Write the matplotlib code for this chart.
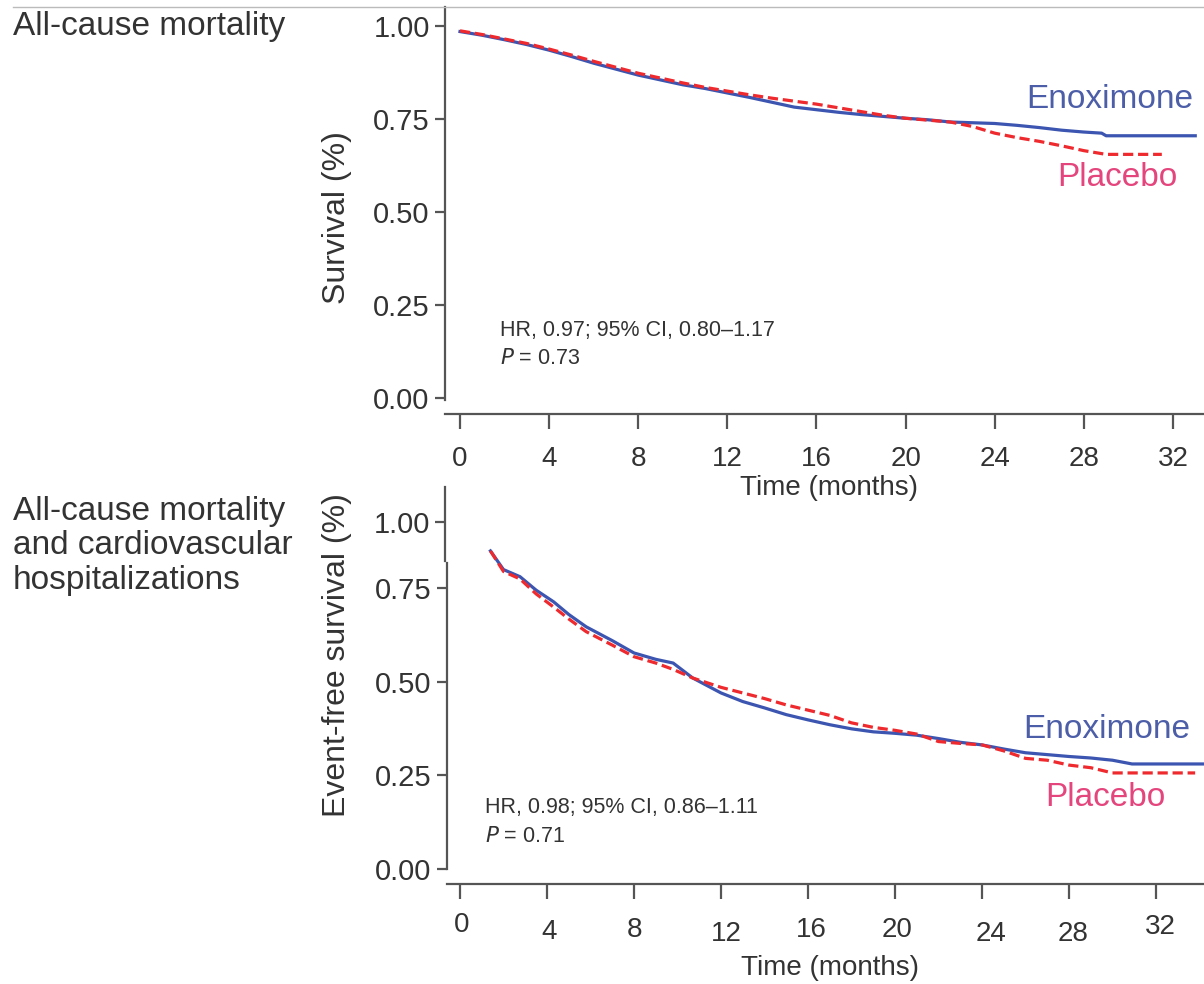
import matplotlib.pyplot as plt
from matplotlib.lines import Line2D
from matplotlib.transforms import ScaledTranslation

plt.rcParams['font.family'] = ['Liberation Sans', 'DejaVu Sans']

W, H = 1204, 984
BLUE = '#3c55b0'
RED = '#ee2a2e'
BLUE_TXT = '#4d5ea8'
PINK_TXT = '#e4457c'
GREY = '#555555'
TXT = '#333333'

month_ticks = [0, 4, 8, 12, 16, 20, 24, 28, 32]
surv_ticks = [0.0, 0.25, 0.5, 0.75]

# all-cause mortality
mort_enox_t = [0, 1, 2, 3, 4, 5, 6, 7, 8, 9, 10, 11, 12, 13, 14, 15, 16, 17, 18, 19,
               20, 21, 22, 23, 24, 25, 26, 27, 28, 28.8, 29, 33]
mort_enox_s = [0.985, 0.975, 0.963, 0.950, 0.935, 0.918, 0.900, 0.884, 0.868, 0.855,
               0.842, 0.832, 0.820, 0.808, 0.795, 0.782, 0.775, 0.768, 0.762, 0.757,
               0.752, 0.748, 0.742, 0.740, 0.738, 0.733, 0.727, 0.720, 0.715, 0.712,
               0.705, 0.705]
mort_plac_t = [0, 1, 2, 3, 4, 5, 6, 7, 8, 9, 10, 11, 12, 13, 14, 15, 16, 17, 18, 19,
               20, 21, 22, 23, 24, 25, 26, 27, 28, 29, 31.5]
mort_plac_s = [0.987, 0.977, 0.965, 0.953, 0.938, 0.922, 0.905, 0.889, 0.873, 0.860,
               0.847, 0.835, 0.825, 0.815, 0.806, 0.798, 0.790, 0.780, 0.770, 0.760,
               0.752, 0.747, 0.742, 0.730, 0.712, 0.700, 0.690, 0.678, 0.665, 0.655, 0.655]

# all-cause mortality + CV hospitalization
hosp_enox_t = [1.4, 2, 2.76, 3.5, 4.3, 5, 5.8, 7, 8, 9, 9.8, 10.7, 12, 13, 14, 15, 16,
               17, 18, 19, 20, 21, 22, 23, 24, 25, 26, 27, 28, 29, 30, 30.9, 34.2]
hosp_enox_s = [0.850, 0.800, 0.781, 0.745, 0.714, 0.680, 0.647, 0.610, 0.577, 0.560,
               0.550, 0.510, 0.470, 0.447, 0.430, 0.412, 0.398, 0.385, 0.374, 0.366,
               0.362, 0.357, 0.348, 0.338, 0.331, 0.320, 0.310, 0.305, 0.300, 0.296,
               0.290, 0.280, 0.280]
hosp_plac_t = [1.4, 2, 2.76, 3.5, 4.3, 5, 5.8, 7, 8, 9, 9.8, 10.7, 12, 13, 14, 15, 16,
               17, 18, 19, 20, 21, 22, 23, 24, 25, 26, 27, 28, 29, 30, 33.8]
hosp_plac_s = [0.850, 0.795, 0.775, 0.735, 0.700, 0.668, 0.634, 0.598, 0.567, 0.550,
               0.533, 0.510, 0.485, 0.470, 0.455, 0.438, 0.424, 0.410, 0.390, 0.378,
               0.370, 0.360, 0.340, 0.335, 0.331, 0.315, 0.295, 0.290, 0.277, 0.270,
               0.256, 0.256]

# small pixel nudges (dx, dy) of the lower month labels
hosp_label_nudge = [(2, 0), (2, 7), (0, 5), (5, 9), (3, 5), (2, 5), (9, 9), (4, 9), (4, 2)]


def px_axes(fig, left, top, right, bottom):
    return fig.add_axes([left / W, 1 - bottom / H, (right - left) / W, (bottom - top) / H])


def style(ax, xlim, ylim, spine_top, xoff):
    ax.set_xlim(*xlim)
    ax.set_ylim(*ylim)
    for s in ['top', 'right']:
        ax.spines[s].set_visible(False)
    for s in ['left', 'bottom']:
        ax.spines[s].set_color(GREY)
        ax.spines[s].set_linewidth(1.6)
    ax.spines['left'].set_bounds(ylim[0], spine_top)
    ax.spines['bottom'].set_position(('outward', xoff))
    ax.set_xticks(month_ticks)
    ax.set_xticklabels([str(m) for m in month_ticks])
    ax.tick_params(axis='x', length=11, width=1.6, color=GREY, labelsize=20,
                   labelcolor=TXT, pad=12)
    ax.tick_params(axis='y', length=7, width=1.6, color=GREY, labelsize=21,
                   labelcolor=TXT, pad=4)
    ax.patch.set_alpha(0)


def curves(ax, te, se, tp, sp):
    ax.plot(te, se, color=BLUE, lw=2.3, clip_on=False)
    ax.plot(tp, sp, color=RED, lw=2.3, dashes=(3.2, 1.5), clip_on=False)


fig = plt.figure(figsize=(W / 100, H / 100), dpi=100)

# thin rule across the top
fig.add_artist(Line2D([13 / W, 1], [1 - 7 / H, 1 - 7 / H], color='#bbbbbb', lw=1.0))

# ---- top panel ----
ax1 = px_axes(fig, 445, 7, 1204, 400)
style(ax1, (-15 / 22.28, 744 / 22.28), (-0.005, 1.051), 1.051, 10)
ax1.set_yticks(surv_ticks + [1.0])
ax1.set_yticklabels(['0.00', '0.25', '0.50', '0.75', '1.00'])
curves(ax1, mort_enox_t, mort_enox_s, mort_plac_t, mort_plac_s)

fig.text(13 / W, 1 - 26 / H, 'All-cause mortality', fontsize=24, color=TXT, va='center')
fig.text(337 / W, 1 - 218 / H, 'Survival (%)', fontsize=23, color=TXT, rotation=90,
         ha='center', va='center')
fig.text(829 / W, 1 - 488 / H, 'Time (months)', fontsize=20, color=TXT,
         ha='center', va='center')
fig.text(1193 / W, 1 - 100 / H, 'Enoximone', fontsize=24, color=BLUE_TXT,
         ha='right', va='center')
fig.text(1178 / W, 1 - 178 / H, 'Placebo', fontsize=24, color=PINK_TXT,
         ha='right', va='center')
fig.text(500 / W, 1 - 330 / H, 'HR, 0.97; 95% CI, 0.80\u20131.17', fontsize=15.5,
         color=TXT, va='center')
fig.text(500 / W, 1 - 358 / H, '$P$ = 0.73', fontsize=15.5, color=TXT, va='center')

# ---- bottom panel ----
ax2 = px_axes(fig, 447, 487, 1204, 869)
style(ax2, (-13 / 21.75, 744 / 21.75), (-0.001, 1.021), 0.818, 11)
ax2.set_yticks(surv_ticks)
ax2.set_yticklabels(['0.00', '0.25', '0.50', '0.75'])
ax2.tick_params(axis='x', pad=9)
for lbl, (dx, dy) in zip(ax2.get_xticklabels(), hosp_label_nudge):
    lbl.set_transform(lbl.get_transform() +
                      ScaledTranslation(dx / 100, -dy / 100, fig.dpi_scale_trans))
curves(ax2, hosp_enox_t, hosp_enox_s, hosp_plac_t, hosp_plac_s)

# upper spine segment carrying the 1.00 tick
ax2b = px_axes(fig, 445, 487, 460, 561)
ax2b.set_ylim(0.8956, 1.0937)
ax2b.set_xticks([])
ax2b.set_yticks([1.0])
ax2b.set_yticklabels(['1.00'])
for s in ['top', 'right', 'bottom']:
    ax2b.spines[s].set_visible(False)
ax2b.spines['left'].set_color(GREY)
ax2b.spines['left'].set_linewidth(1.6)
ax2b.tick_params(axis='y', length=7, width=1.6, color=GREY, labelsize=21,
                 labelcolor=TXT, pad=4)
ax2b.patch.set_alpha(0)

fig.text(13 / W, 1 - 546 / H,
         'All-cause mortality\nand cardiovascular\nhospitalizations',
         fontsize=24, color=TXT, va='center', linespacing=1.15)
fig.text(337 / W, 1 - 655 / H, 'Event-free survival (%)', fontsize=23, color=TXT,
         rotation=90, ha='center', va='center')
fig.text(830 / W, 1 - 968 / H, 'Time (months)', fontsize=20, color=TXT,
         ha='center', va='center')
fig.text(1190 / W, 1 - 730 / H, 'Enoximone', fontsize=24, color=BLUE_TXT,
         ha='right', va='center')
fig.text(1165 / W, 1 - 797 / H, 'Placebo', fontsize=24, color=PINK_TXT,
         ha='right', va='center')
fig.text(485 / W, 1 - 808 / H, 'HR, 0.98; 95% CI, 0.86\u20131.11', fontsize=15.5,
         color=TXT, va='center')
fig.text(485 / W, 1 - 836 / H, '$P$ = 0.71', fontsize=15.5, color=TXT, va='center')

fig.savefig('out.png', dpi=100)
